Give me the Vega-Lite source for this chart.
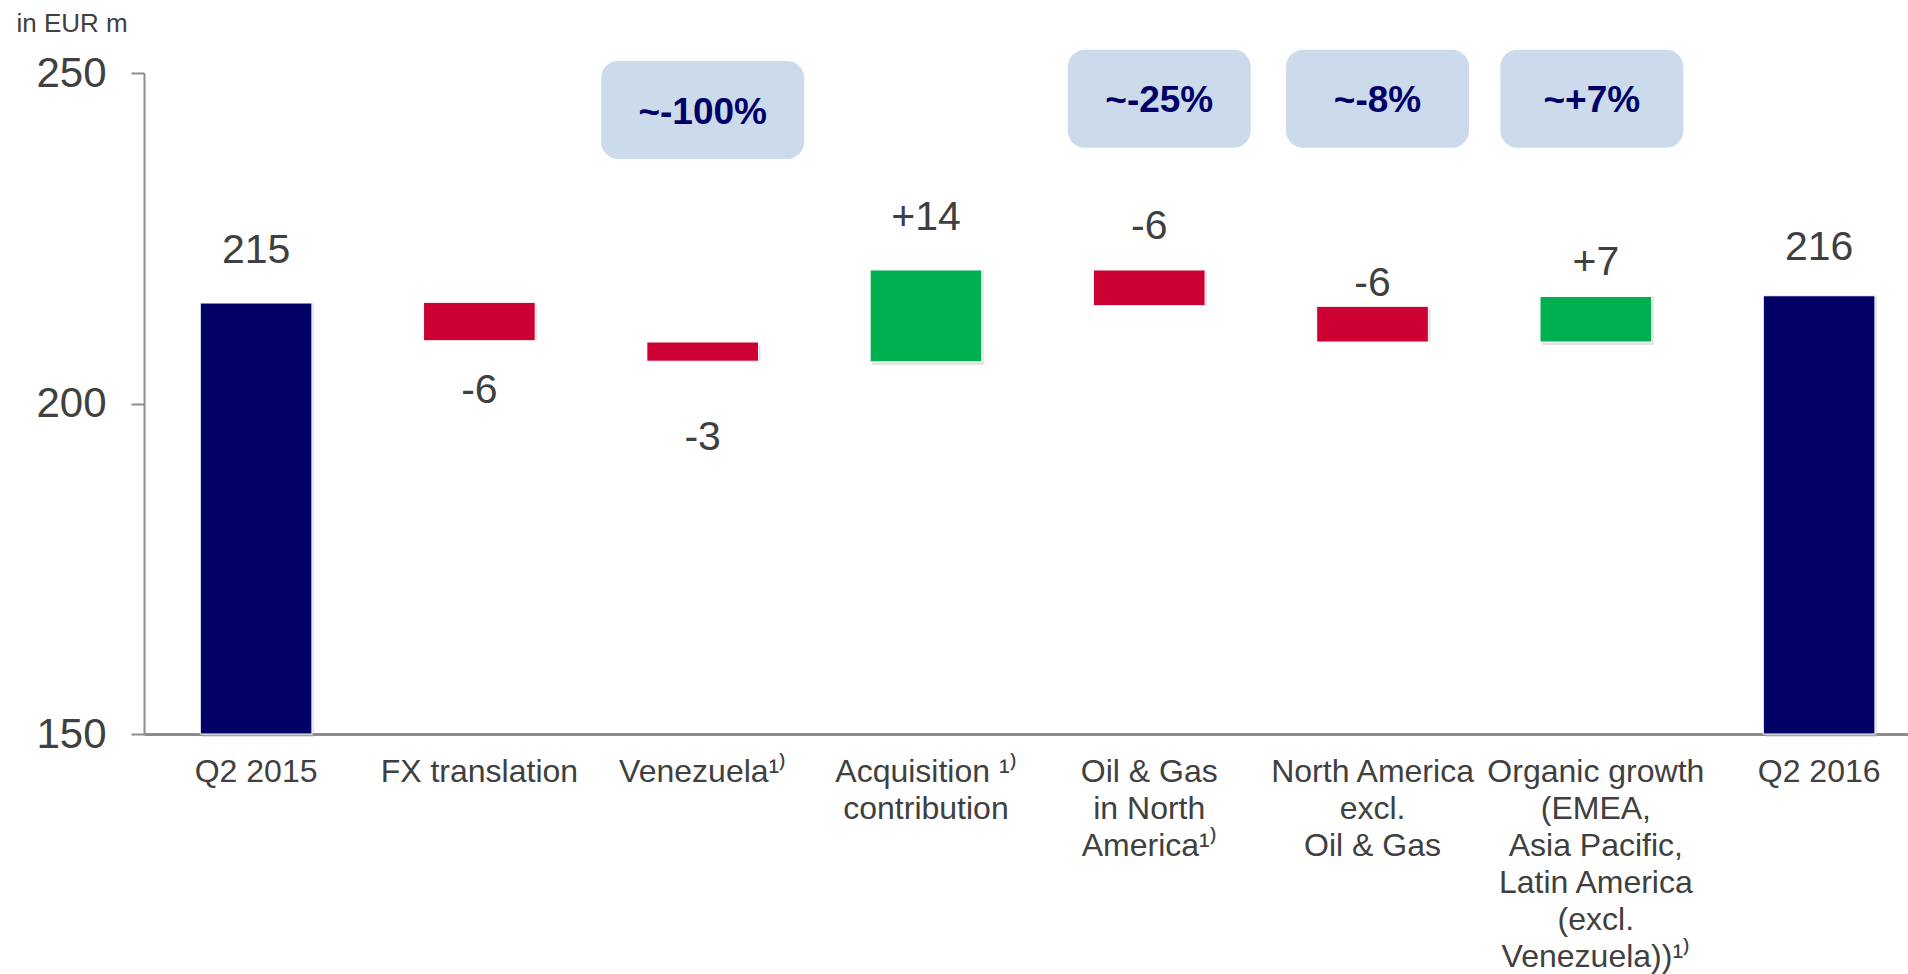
{
  "$schema": "https://vega.github.io/schema/vega-lite/v6.json",
  "width": 1764,
  "height": 661,
  "autosize": {"type": "none"},
  "padding": {"left": 144, "top": 73, "right": 0, "bottom": 240},
  "background": "white",
  "config": {"view": {"stroke": null}, "font": "Liberation Sans"},
  "datasets": {
    "bars": [
      {"key": "q15", "cat": "Q2 2015", "start": 150, "end": 215.2, "label": "215", "type": "total"},
      {"key": "fx", "cat": "FX translation", "start": 215.3, "end": 209.5, "label": "-6", "type": "neg"},
      {"key": "ven", "cat": "Venezuela¹⁾", "start": 209.3, "end": 206.4, "label": "-3", "type": "neg"},
      {"key": "acq", "cat": "Acquisition  ¹⁾|contribution", "start": 206.3, "end": 220.2, "label": "+14", "type": "pos"},
      {"key": "og", "cat": "Oil & Gas|in North|America¹⁾", "start": 220.2, "end": 214.8, "label": "-6", "type": "neg"},
      {"key": "na", "cat": "North America|excl.|Oil & Gas", "start": 214.7, "end": 209.3, "label": "-6", "type": "neg"},
      {"key": "org", "cat": "Organic growth|(EMEA,|Asia Pacific,|Latin America|(excl.|Venezuela))¹⁾", "start": 209.3, "end": 216.2, "label": "+7", "type": "pos"},
      {"key": "q16", "cat": "Q2 2016", "start": 150, "end": 216.3, "label": "216", "type": "total"}
    ],
    "boxOG": [{"cat": "Oil & Gas|in North|America¹⁾", "text": "~-25%"}],
    "boxNA": [{"cat": "North America|excl.|Oil & Gas", "text": "~-8%"}],
    "boxORG": [{"cat": "Organic growth|(EMEA,|Asia Pacific,|Latin America|(excl.|Venezuela))¹⁾", "text": "~+7%"}],
    "bigbox": [{"cat": "Venezuela¹⁾", "text": "~-100%"}]
  },
  "data": {"name": "bars"},
  "encoding": {
    "x": {
      "field": "cat",
      "type": "nominal",
      "sort": null,
      "scale": {"paddingInner": 0.5, "paddingOuter": 0.2, "align": 0.63},
      "axis": {
        "title": null,
        "labelExpr": "split(datum.label, '|')",
        "labelAngle": 0,
        "labelFontSize": 32,
        "labelLineHeight": 37,
        "labelColor": "#404040",
        "labelPadding": 22,
        "labelLimit": 500,
        "labelOverlap": false,
        "ticks": false,
        "domainColor": "#8c8c8c",
        "domainWidth": 3,
        "grid": false
      }
    }
  },
  "layer": [
    {
      "mark": {"type": "bar", "color": "#bdbdbd", "opacity": 0.45, "xOffset": 2, "yOffset": 3},
      "encoding": {
        "y": {"field": "start", "type": "quantitative", "scale": {"domain": [150, 250], "nice": false, "zero": false},
          "axis": {
            "title": "in EUR m",
            "titleAngle": 0,
            "titleX": -128,
            "titleY": -42,
            "titleAlign": "left",
            "titleBaseline": "alphabetic",
            "titleFontSize": 26,
            "titleFontWeight": "normal",
            "titleColor": "#404040",
            "values": [150, 200, 250],
            "labelFontSize": 42,
            "labelColor": "#404040",
            "labelPadding": 25,
            "labelFlush": false,
            "tickSize": 13,
            "tickColor": "#8c8c8c",
            "tickWidth": 2,
            "domainColor": "#8c8c8c",
            "domainWidth": 2,
            "grid": false
          }
        },
        "y2": {"field": "end"}
      }
    },
    {
      "mark": {"type": "bar", "stroke": "white", "strokeWidth": 1},
      "encoding": {
        "y": {"field": "start", "type": "quantitative"},
        "y2": {"field": "end"},
        "color": {"field": "type", "type": "nominal", "scale": {"domain": ["total", "neg", "pos"], "range": ["#000066", "#CC0033", "#00B050"]}, "legend": null}
      }
    },
    {
      "transform": [{"filter": "datum.key === 'q15' || datum.key === 'acq'"}],
      "mark": {"type": "text", "fontSize": 41, "color": "#404040", "baseline": "alphabetic", "dy": -40},
      "encoding": {"y": {"field": "end", "type": "quantitative"}, "text": {"field": "label"}}
    },
    {
      "transform": [{"filter": "datum.key === 'q16'"}],
      "mark": {"type": "text", "fontSize": 41, "color": "#404040", "baseline": "alphabetic", "dy": -36},
      "encoding": {"y": {"field": "end", "type": "quantitative"}, "text": {"field": "label"}}
    },
    {
      "transform": [{"filter": "datum.key === 'org'"}],
      "mark": {"type": "text", "fontSize": 41, "color": "#404040", "baseline": "alphabetic", "dy": -21},
      "encoding": {"y": {"field": "end", "type": "quantitative"}, "text": {"field": "label"}}
    },
    {
      "transform": [{"filter": "datum.key === 'og'"}],
      "mark": {"type": "text", "fontSize": 41, "color": "#404040", "baseline": "alphabetic", "dy": -31},
      "encoding": {"y": {"field": "start", "type": "quantitative"}, "text": {"field": "label"}}
    },
    {
      "transform": [{"filter": "datum.key === 'na'"}],
      "mark": {"type": "text", "fontSize": 41, "color": "#404040", "baseline": "alphabetic", "dy": -10},
      "encoding": {"y": {"field": "start", "type": "quantitative"}, "text": {"field": "label"}}
    },
    {
      "transform": [{"filter": "datum.key === 'fx'"}],
      "mark": {"type": "text", "fontSize": 41, "color": "#404040", "baseline": "alphabetic", "dy": 62},
      "encoding": {"y": {"field": "end", "type": "quantitative"}, "text": {"field": "label"}}
    },
    {
      "transform": [{"filter": "datum.key === 'ven'"}],
      "mark": {"type": "text", "fontSize": 41, "color": "#404040", "baseline": "alphabetic", "dy": 89},
      "encoding": {"y": {"field": "end", "type": "quantitative"}, "text": {"field": "label"}}
    },
    {
      "data": {"name": "boxOG"},
      "mark": {"type": "bar", "width": 183, "cornerRadius": 17, "color": "#CCDBEB", "xOffset": 10},
      "encoding": {"y": {"datum": 253.5, "type": "quantitative"}, "y2": {"datum": 238.7}}
    },
    {
      "data": {"name": "boxOG"},
      "mark": {"type": "text", "fontSize": 37, "fontWeight": "bold", "color": "#000066", "baseline": "middle", "xOffset": 10},
      "encoding": {"y": {"datum": 245.7, "type": "quantitative"}, "text": {"field": "text"}}
    },
    {
      "data": {"name": "boxNA"},
      "mark": {"type": "bar", "width": 183, "cornerRadius": 17, "color": "#CCDBEB", "xOffset": 5},
      "encoding": {"y": {"datum": 253.5, "type": "quantitative"}, "y2": {"datum": 238.7}}
    },
    {
      "data": {"name": "boxNA"},
      "mark": {"type": "text", "fontSize": 37, "fontWeight": "bold", "color": "#000066", "baseline": "middle", "xOffset": 5},
      "encoding": {"y": {"datum": 245.7, "type": "quantitative"}, "text": {"field": "text"}}
    },
    {
      "data": {"name": "boxORG"},
      "mark": {"type": "bar", "width": 183, "cornerRadius": 17, "color": "#CCDBEB", "xOffset": -4},
      "encoding": {"y": {"datum": 253.5, "type": "quantitative"}, "y2": {"datum": 238.7}}
    },
    {
      "data": {"name": "boxORG"},
      "mark": {"type": "text", "fontSize": 37, "fontWeight": "bold", "color": "#000066", "baseline": "middle", "xOffset": -4},
      "encoding": {"y": {"datum": 245.7, "type": "quantitative"}, "text": {"field": "text"}}
    },
    {
      "data": {"name": "bigbox"},
      "mark": {"type": "bar", "width": 203, "cornerRadius": 17, "color": "#CCDBEB"},
      "encoding": {"y": {"datum": 251.8, "type": "quantitative"}, "y2": {"datum": 237.0}}
    },
    {
      "data": {"name": "bigbox"},
      "mark": {"type": "text", "fontSize": 37, "fontWeight": "bold", "color": "#000066", "baseline": "middle"},
      "encoding": {"y": {"datum": 244.0, "type": "quantitative"}, "text": {"field": "text"}}
    }
  ]
}
